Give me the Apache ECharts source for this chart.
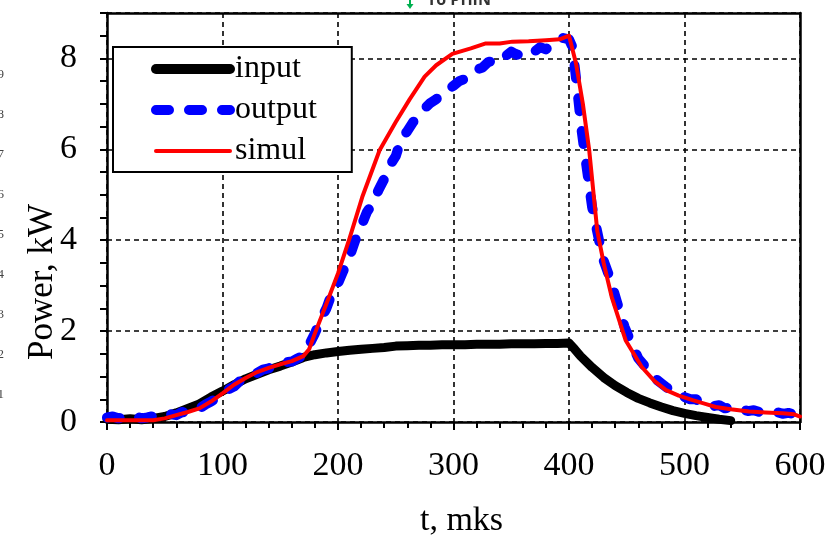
<!DOCTYPE html>
<html>
<head>
<meta charset="utf-8">
<script src="https://cdn.jsdelivr.net/npm/echarts@6/dist/echarts.min.js"></script>
<style>html,body{margin:0;padding:0;background:#fff}#c{width:835px;height:537px}</style>
</head>
<body>
<div id="c"></div>
<script>
// ---- data ----
const seriesNames = ['input', 'output', 'simul'];
const xTicks = [0, 100, 200, 300, 400, 500, 600];
const yTicks = [0, 2, 4, 6, 8];

const inputT = [0,10,20,30,40,50,60,70,80,90,100,110,120,130,140,150,160,170,180,190,200,210,220,230,240,250,260,270,280,290,300,310,320,330,340,350,360,370,380,390,400,405,410,420,430,440,450,460,470,480,490,500,510,520,530,540];
const inputV = [0.06,0.05,0.07,0.05,0.08,0.12,0.2,0.3,0.4,0.55,0.68,0.82,0.95,1.05,1.15,1.23,1.32,1.42,1.48,1.52,1.55,1.58,1.6,1.62,1.64,1.67,1.68,1.69,1.69,1.7,1.7,1.7,1.71,1.71,1.71,1.72,1.72,1.72,1.73,1.73,1.74,1.6,1.45,1.2,0.98,0.8,0.65,0.52,0.42,0.33,0.25,0.19,0.14,0.1,0.06,0.03];

const outputT = [0,5,10,15,20,25,30,35,40,45,50,55,60,65,70,75,80,85,90,95,100,105,110,115,120,125,130,135,140,145,150,155,160,165,170,175,180,185,190,195,200,205,210,215,220,225,230,235,240,245,250,255,260,265,270,275,280,285,290,295,300,305,310,315,320,325,330,335,340,345,350,355,360,365,370,375,380,385,390,395,400,403,407,411,416,420,426,430,435,442,448,454,460,465,470,475,480,485,490,495,500,505,510,515,520,525,530,535,540,545,550,555,560,565,570,575,580,585,590,595,600];
const outputV = [0.1,0.12,0.08,0.11,0.09,0.12,0.08,0.1,0.13,0.1,0.14,0.17,0.15,0.22,0.2,0.28,0.3,0.38,0.45,0.52,0.6,0.72,0.78,0.9,0.95,1.05,1.08,1.15,1.18,1.25,1.26,1.32,1.33,1.4,1.45,1.7,1.95,2.25,2.5,2.85,3.05,3.35,3.63,4.0,4.3,4.62,4.8,5.1,5.35,5.65,5.85,6.25,6.4,6.6,6.75,6.9,7.02,7.1,7.25,7.3,7.4,7.5,7.55,7.68,7.75,7.8,7.92,7.95,8.08,8.05,8.15,8.08,8.12,8.2,8.15,8.25,8.2,8.32,8.35,8.45,8.42,8.25,7.36,6.4,5.47,4.73,4.0,3.55,3.2,2.6,2.1,1.73,1.4,1.25,1.1,0.95,0.85,0.75,0.72,0.6,0.55,0.5,0.5,0.4,0.42,0.35,0.37,0.3,0.32,0.27,0.28,0.24,0.26,0.22,0.23,0.2,0.22,0.18,0.2,0.17,0.18];

const simulT = [0,40,50,60,70,80,90,100,110,120,130,140,150,160,170,175,180,190,200,210,221,236,250,262,275,285,299,315,328,340,351,365,380,392,400,406,412,417.5,424.5,430,437,449,463,474,484,495,507,518,527,540,556,570,585,595,600];
const simulV = [0.04,0.04,0.08,0.15,0.22,0.3,0.45,0.63,0.82,0.97,1.1,1.19,1.27,1.34,1.45,1.6,1.95,2.6,3.27,4.04,4.95,5.98,6.6,7.1,7.6,7.85,8.1,8.22,8.33,8.33,8.37,8.38,8.4,8.42,8.5,7.9,7.0,5.98,4.2,3.5,2.75,1.8,1.21,0.9,0.7,0.58,0.48,0.4,0.33,0.28,0.23,0.21,0.19,0.17,0.12];

const sideNumbers = ['9','8','7','6','5','4','3','2','1'];

function pairs(t, v) { return t.map((x, i) => [x, v[i]]); }

const serif = '"Liberation Serif", "Times New Roman", serif';
const chart = echarts.init(document.getElementById('c'), null, {renderer: 'canvas'});

const gridDash = {color: '#000', width: 1.6, type: [5, 4]};
const hiddenSymbol = {color: 'rgba(0,0,0,0)', borderWidth: 0, opacity: 0};

const graphics = [
  {type: 'text', x: 43, y: 282, rotation: Math.PI / 2,
   style: {text: 'Power, kW', font: '35px ' + serif, fill: '#000', align: 'center', verticalAlign: 'middle'}},
  {type: 'text', x: 427, y: 0,
   style: {text: 'To PHIN', font: 'bold 16px "Open Sans", "DejaVu Sans", sans-serif', fill: '#333', align: 'left', verticalAlign: 'middle'}},
  {type: 'line', shape: {x1: 410, y1: 0, x2: 410, y2: 6}, style: {stroke: '#00b050', lineWidth: 2}},
  {type: 'polygon', shape: {points: [[406.5, 4], [413.5, 4], [410, 9]]}, style: {fill: '#00b050'}}
];
sideNumbers.forEach((s, i) => {
  graphics.push({type: 'text', x: 4, y: 75 + i * 40,
    style: {text: s, font: '13px ' + serif, fill: '#444', align: 'right', verticalAlign: 'middle'}});
});

chart.setOption({
  animation: false,
  backgroundColor: '#fff',
  grid: {left: 107, right: 35, top: 13, bottom: 115, containLabel: false, outerBoundsMode: 'none'},
  legend: {
    orient: 'vertical', left: 113, top: 47,
    selectedMode: false,
    backgroundColor: '#fff', borderColor: '#000', borderWidth: 2, borderRadius: 0,
    padding: [6, 35, 5, 38],
    itemWidth: 74, itemHeight: 14, itemGap: 9,
    textStyle: {fontFamily: serif, fontSize: 32, color: '#000', lineHeight: 32},
    data: [
      {name: seriesNames[0], itemStyle: hiddenSymbol, lineStyle: {width: 10, cap: 'round'}},
      {name: seriesNames[1], itemStyle: hiddenSymbol, lineStyle: {width: 10, cap: 'round', type: [13, 20]}},
      {name: seriesNames[2], itemStyle: hiddenSymbol, lineStyle: {width: 4, cap: 'round'}}
    ]
  },
  xAxis: [
    {type: 'value', min: 0, max: 600, interval: 100, position: 'bottom',
     name: 't, mks', nameLocation: 'middle', nameGap: 82,
     nameTextStyle: {fontFamily: serif, fontSize: 34, color: '#000', padding: [0, 0, 0, 16]},
     axisLine: {show: true, onZero: false, lineStyle: {color: '#000', width: 2.5}},
     axisTick: {show: true, inside: false, length: 8, lineStyle: {color: '#000', width: 2}},
     minorTick: {show: true, splitNumber: 5, length: 6, lineStyle: {color: '#000', width: 2}},
     axisLabel: {show: true, margin: 27, fontFamily: serif, fontSize: 34, color: '#000',
       formatter: v => xTicks.includes(v) ? String(v) : ''},
     splitLine: {show: true, lineStyle: gridDash}},
    {type: 'value', min: 0, max: 600, position: 'top',
     axisLine: {show: true, onZero: false, lineStyle: {color: '#000', width: 2.5}},
     axisTick: {show: false}, axisLabel: {show: false}, splitLine: {show: false}}
  ],
  yAxis: [
    {type: 'value', min: 0, max: 9, interval: 0.5, position: 'left',
     axisLine: {show: true, onZero: false, lineStyle: {color: '#000', width: 2.5}},
     axisTick: {show: true, inside: false, length: 7, lineStyle: {color: '#000', width: 2}},
     axisLabel: {show: false}, splitLine: {show: false}},
    {type: 'value', min: 0, max: 9, interval: 2, position: 'left', offset: 0,
     axisLine: {show: false}, axisTick: {show: false},
     axisLabel: {show: true, margin: 30, fontFamily: serif, fontSize: 34, color: '#000', showMaxLabel: false,
       formatter: v => yTicks.includes(v) ? String(v) : ''},
     splitLine: {show: true, lineStyle: gridDash}},
    {type: 'value', min: 0, max: 9, position: 'right',
     axisLine: {show: true, onZero: false, lineStyle: {color: '#000', width: 2.5}},
     axisTick: {show: false}, axisLabel: {show: false}, splitLine: {show: false}}
  ],
  series: [
    {name: seriesNames[0], type: 'line', symbol: 'none', xAxisIndex: 0, yAxisIndex: 0,
     data: pairs(inputT, inputV), color: '#000',
     lineStyle: {color: '#000', width: 9, cap: 'round', join: 'round'}, z: 2},
    {name: seriesNames[1], type: 'line', symbol: 'none', xAxisIndex: 0, yAxisIndex: 0,
     data: pairs(outputT, outputV), color: '#0000ff',
     lineStyle: {color: '#0000ff', width: 10, type: [13, 20], cap: 'round', join: 'round'}, z: 3},
    {name: seriesNames[2], type: 'line', symbol: 'none', xAxisIndex: 0, yAxisIndex: 0,
     data: pairs(simulT, simulV), color: '#ff0000',
     lineStyle: {color: '#ff0000', width: 4, cap: 'round', join: 'round'}, z: 4}
  ],
  graphic: graphics
});
</script>
</body>
</html>
